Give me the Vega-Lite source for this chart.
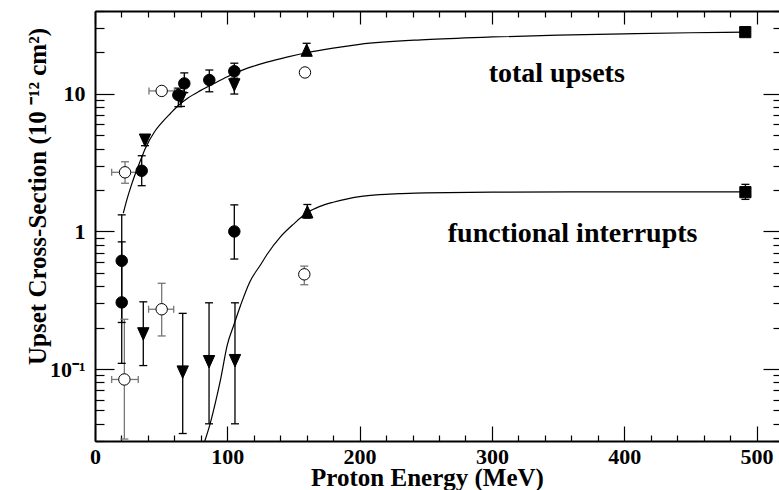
{
  "$schema": "https://vega.github.io/schema/vega-lite/v6.json",
  "width": 684,
  "height": 430,
  "autosize": {"type": "none"},
  "padding": {"left": 95, "top": 11, "right": 0, "bottom": 49},
  "background": "white",
  "config": {"view": {"stroke": null}, "font": "Liberation Serif"},
  "datasets": {
    "curves": [
      {"series": "total", "E": 21.4, "s": 1.36}, {"series": "total", "E": 24, "s": 1.69}, {"series": "total", "E": 27, "s": 2.1},
      {"series": "total", "E": 30, "s": 2.55}, {"series": "total", "E": 35, "s": 3.4}, {"series": "total", "E": 38, "s": 4.0},
      {"series": "total", "E": 45, "s": 5.3}, {"series": "total", "E": 50, "s": 6.1}, {"series": "total", "E": 57, "s": 7.2},
      {"series": "total", "E": 64, "s": 8.4}, {"series": "total", "E": 70, "s": 9.3}, {"series": "total", "E": 80, "s": 10.6},
      {"series": "total", "E": 90, "s": 11.9}, {"series": "total", "E": 100, "s": 13.3}, {"series": "total", "E": 110, "s": 14.7},
      {"series": "total", "E": 120, "s": 15.9}, {"series": "total", "E": 130, "s": 17.0}, {"series": "total", "E": 145, "s": 18.5},
      {"series": "total", "E": 160, "s": 19.9}, {"series": "total", "E": 180, "s": 21.5}, {"series": "total", "E": 200, "s": 22.9},
      {"series": "total", "E": 250, "s": 24.8}, {"series": "total", "E": 300, "s": 25.9}, {"series": "total", "E": 350, "s": 26.7},
      {"series": "total", "E": 400, "s": 27.3}, {"series": "total", "E": 450, "s": 27.8}, {"series": "total", "E": 491.5, "s": 28.1},
      {"series": "func", "E": 83, "s": 0.03}, {"series": "func", "E": 87, "s": 0.04}, {"series": "func", "E": 91, "s": 0.057},
      {"series": "func", "E": 95, "s": 0.085}, {"series": "func", "E": 100, "s": 0.15}, {"series": "func", "E": 105, "s": 0.21},
      {"series": "func", "E": 110, "s": 0.29}, {"series": "func", "E": 117, "s": 0.43}, {"series": "func", "E": 125, "s": 0.57},
      {"series": "func", "E": 130, "s": 0.68}, {"series": "func", "E": 140, "s": 0.91}, {"series": "func", "E": 150, "s": 1.13},
      {"series": "func", "E": 160, "s": 1.36}, {"series": "func", "E": 170, "s": 1.52}, {"series": "func", "E": 180, "s": 1.63},
      {"series": "func", "E": 190, "s": 1.72}, {"series": "func", "E": 200, "s": 1.79}, {"series": "func", "E": 215, "s": 1.85},
      {"series": "func", "E": 230, "s": 1.88}, {"series": "func", "E": 250, "s": 1.91}, {"series": "func", "E": 300, "s": 1.93},
      {"series": "func", "E": 400, "s": 1.94}, {"series": "func", "E": 491.5, "s": 1.94}
    ],
    "points": [
      {"group": "total", "type": "open circle", "E": 22.7, "s": 2.69, "lo": 2.24, "hi": 3.21, "Elo": 12.6, "Ehi": 32.7},
      {"group": "total", "type": "filled circle", "E": 35.3, "s": 2.76, "lo": 2.15, "hi": 3.55, "Elo": null, "Ehi": null},
      {"group": "total", "type": "down triangle", "E": 37.8, "s": 4.6, "lo": 4.2, "hi": 5.0, "Elo": null, "Ehi": null},
      {"group": "total", "type": "open circle", "E": 50.4, "s": 10.5, "lo": null, "hi": null, "Elo": 40.8, "Ehi": 60},
      {"group": "total", "type": "filled circle", "E": 63, "s": 9.8, "lo": 8.06, "hi": 11.0, "Elo": null, "Ehi": null},
      {"group": "total", "type": "down triangle", "E": 65, "s": 9.3, "lo": 8.1, "hi": 10.5, "Elo": null, "Ehi": null},
      {"group": "total", "type": "filled circle", "E": 67.5, "s": 11.9, "lo": 10.2, "hi": 14.2, "Elo": null, "Ehi": null},
      {"group": "total", "type": "filled circle", "E": 86.4, "s": 12.6, "lo": 10.35, "hi": 14.9, "Elo": null, "Ehi": null},
      {"group": "total", "type": "filled circle", "E": 105.3, "s": 14.6, "lo": 12.7, "hi": 16.7, "Elo": null, "Ehi": null},
      {"group": "total", "type": "down triangle", "E": 105.3, "s": 11.6, "lo": 9.97, "hi": 13.0, "Elo": null, "Ehi": null},
      {"group": "total", "type": "up triangle", "E": 160, "s": 20.8, "lo": 19.0, "hi": 23.3, "Elo": null, "Ehi": null},
      {"group": "total", "type": "open circle", "E": 158.7, "s": 14.3, "lo": null, "hi": null, "Elo": null, "Ehi": null},
      {"group": "total", "type": "square", "E": 491.5, "s": 28.1, "lo": null, "hi": null, "Elo": null, "Ehi": null},
      {"group": "func", "type": "filled circle", "E": 20.2, "s": 0.612, "lo": 0.218, "hi": 1.32, "Elo": null, "Ehi": null},
      {"group": "func", "type": "filled circle", "E": 20.2, "s": 0.305, "lo": 0.11, "hi": 0.84, "Elo": null, "Ehi": null},
      {"group": "func", "type": "open circle", "E": 22.2, "s": 0.084, "lo": 0.031, "hi": 0.23, "Elo": 12.6, "Ehi": 32.7},
      {"group": "func", "type": "down triangle", "E": 36.5, "s": 0.18, "lo": 0.106, "hi": 0.308, "Elo": null, "Ehi": null},
      {"group": "func", "type": "open circle", "E": 50.4, "s": 0.272, "lo": 0.174, "hi": 0.42, "Elo": 40.5, "Ehi": 59.5},
      {"group": "func", "type": "down triangle", "E": 66.3, "s": 0.095, "lo": 0.034, "hi": 0.254, "Elo": null, "Ehi": null},
      {"group": "func", "type": "down triangle", "E": 86.2, "s": 0.113, "lo": 0.04, "hi": 0.303, "Elo": null, "Ehi": null},
      {"group": "func", "type": "down triangle", "E": 105.8, "s": 0.115, "lo": 0.04, "hi": 0.303, "Elo": null, "Ehi": null},
      {"group": "func", "type": "filled circle", "E": 105.3, "s": 1.0, "lo": 0.63, "hi": 1.56, "Elo": null, "Ehi": null},
      {"group": "func", "type": "up triangle", "E": 160.5, "s": 1.39, "lo": 1.25, "hi": 1.57, "Elo": null, "Ehi": null},
      {"group": "func", "type": "open circle", "E": 158.2, "s": 0.488, "lo": 0.41, "hi": 0.56, "Elo": null, "Ehi": null},
      {"group": "func", "type": "square", "E": 491.6, "s": 1.93, "lo": 1.71, "hi": 2.2, "Elo": null, "Ehi": null}
    ],
    "labels": [
      {"E": 349, "s": 12.27, "text": "total upsets"},
      {"E": 361, "s": 0.835, "text": "functional interrupts"}
    ]
  },
  "resolve": {"axis": {"x": "independent", "y": "independent"}},
  "layer": [
    {
      "data": {"name": "points"},
      "transform": [{"filter": "isValid(datum.lo)"}],
      "mark": {"type": "rule", "strokeWidth": 1.3},
      "encoding": {
        "x": {"field": "E", "type": "quantitative", "scale": {"domain": [0, 517], "nice": false, "zero": false}, "axis": null},
        "y": {"field": "lo", "type": "quantitative", "scale": {"type": "log", "domain": [0.03, 40], "nice": false}, "axis": null},
        "y2": {"field": "hi"},
        "color": {"field": "type", "type": "nominal", "legend": null,
          "scale": {"domain": ["filled circle", "open circle", "down triangle", "up triangle", "square"], "range": ["black", "#777777", "black", "black", "black"]}}
      }
    },
    {
      "data": {"name": "points"},
      "transform": [{"filter": "isValid(datum.Elo)"}],
      "mark": {"type": "rule", "strokeWidth": 1.3},
      "encoding": {
        "x": {"field": "Elo", "type": "quantitative", "scale": {"domain": [0, 517], "nice": false, "zero": false}, "axis": null},
        "x2": {"field": "Ehi"},
        "y": {"field": "s", "type": "quantitative", "scale": {"type": "log", "domain": [0.03, 40], "nice": false}, "axis": null},
        "color": {"field": "type", "type": "nominal", "legend": null,
          "scale": {"domain": ["filled circle", "open circle", "down triangle", "up triangle", "square"], "range": ["black", "#777777", "black", "black", "black"]}}
      }
    },
    {
      "data": {"name": "points"},
      "transform": [{"filter": "isValid(datum.lo)"}, {"fold": ["lo", "hi"], "as": ["k", "v"]}],
      "mark": {"type": "point", "shape": "M-1,0L1,0", "size": 64, "filled": false, "strokeWidth": 1.3, "opacity": 1},
      "encoding": {
        "x": {"field": "E", "type": "quantitative", "scale": {"domain": [0, 517], "nice": false, "zero": false}, "axis": null},
        "y": {"field": "v", "type": "quantitative", "scale": {"type": "log", "domain": [0.03, 40], "nice": false},
          "axis": {"orient": "right", "values": [0.1, 1, 10], "offset": -16, "tickSize": 16,
            "labels": false, "domain": false, "grid": false, "title": null, "tickColor": "black", "tickWidth": 1.2}},
        "color": {"field": "type", "type": "nominal", "legend": null,
          "scale": {"domain": ["filled circle", "open circle", "down triangle", "up triangle", "square"], "range": ["black", "#777777", "black", "black", "black"]}}
      }
    },
    {
      "data": {"name": "points"},
      "transform": [{"filter": "isValid(datum.Elo)"}, {"fold": ["Elo", "Ehi"], "as": ["k", "v"]}],
      "mark": {"type": "point", "shape": "M0,-1L0,1", "size": 49, "filled": false, "strokeWidth": 1.3, "opacity": 1},
      "encoding": {
        "x": {"field": "v", "type": "quantitative", "scale": {"domain": [0, 517], "nice": false, "zero": false}, "axis": null},
        "y": {"field": "s", "type": "quantitative", "scale": {"type": "log", "domain": [0.03, 40], "nice": false},
          "axis": {"orient": "right", "values": [0.03, 0.04, 0.05, 0.06, 0.07, 0.08, 0.09, 0.2, 0.3, 0.4, 0.5, 0.6, 0.7, 0.8, 0.9, 2, 3, 4, 5, 6, 7, 8, 9, 20, 30, 40], "offset": -6, "tickSize": 6,
            "labels": false, "domain": false, "grid": false, "title": null, "tickColor": "black", "tickWidth": 1.2}},
        "color": {"field": "type", "type": "nominal", "legend": null,
          "scale": {"domain": ["filled circle", "open circle", "down triangle", "up triangle", "square"], "range": ["black", "#777777", "black", "black", "black"]}}
      }
    },
    {
      "data": {"name": "curves"},
      "mark": {"type": "line", "color": "black", "strokeWidth": 1.2, "interpolate": "monotone", "clip": true},
      "encoding": {
        "detail": {"field": "series"},
        "x": {"field": "E", "type": "quantitative", "scale": {"domain": [0, 517], "nice": false, "zero": false},
          "axis": {"orient": "bottom", "values": [0, 20, 40, 60, 80, 100, 120, 140, 160, 180, 200, 220, 240, 260, 280, 300, 320, 340, 360, 380, 400, 420, 440, 460, 480, 500],
            "ticks": false, "domain": true, "domainColor": "black", "domainWidth": 2,
            "grid": true, "gridColor": "black", "gridWidth": 1.2, "gridOpacity": 1,
            "gridDash": {"condition": {"test": "datum.value % 100 == 0", "value": [13, 2000]}, "value": [6, 2000]},
            "labelExpr": "datum.value % 100 == 0 ? datum.label : ''",
            "labelFont": "Liberation Serif", "labelFontWeight": "bold", "labelFontSize": 22, "labelColor": "black",
            "labelPadding": 5, "labelBaseline": "top", "labelFlush": false, "labelOverlap": false,
            "title": "Proton Energy (MeV)", "titleFont": "Liberation Serif", "titleFontWeight": "bold", "titleFontSize": 25,
            "titleColor": "black", "titleX": 332, "titleY": 44, "titleBaseline": "alphabetic", "titleAlign": "center"}},
        "y": {"field": "s", "type": "quantitative", "scale": {"type": "log", "domain": [0.03, 40], "nice": false},
          "axis": {"orient": "left", "values": [0.03, 0.04, 0.05, 0.06, 0.07, 0.08, 0.09, 0.1, 0.2, 0.3, 0.4, 0.5, 0.6, 0.7, 0.8, 0.9, 1, 2, 3, 4, 5, 6, 7, 8, 9, 10, 20, 30, 40],
            "ticks": false, "domain": true, "domainColor": "black", "domainWidth": 2,
            "grid": true, "gridColor": "black", "gridWidth": 1.2, "gridOpacity": 1,
            "gridDash": {"condition": {"test": "datum.value == 0.1 || datum.value == 1 || datum.value == 10", "value": [19, 2000]}, "value": [9, 2000]},
            "labelExpr": "datum.value == 0.1 ? '10⁻¹' : (datum.value == 1 ? '1' : (datum.value == 10 ? '10' : ''))",
            "labelFont": "Liberation Serif", "labelFontWeight": "bold", "labelFontSize": 22, "labelColor": "black",
            "labelPadding": 10, "labelFlush": false, "labelOverlap": false,
            "title": "Upset Cross-Section (10 ⁻¹² cm²)", "titleFont": "Liberation Serif", "titleFontWeight": "bold",
            "titleFontSize": 25, "titleColor": "black", "titleAngle": 270, "titleX": -50, "titleY": 185,
            "titleBaseline": "alphabetic", "titleAlign": "center"}}
      }
    },
    {
      "data": {"name": "points"},
      "mark": {"type": "point", "filled": true, "stroke": "black", "strokeWidth": 1, "opacity": 1},
      "encoding": {
        "x": {"field": "E", "type": "quantitative", "scale": {"domain": [0, 517], "nice": false, "zero": false},
          "axis": {"orient": "top", "values": [0, 20, 40, 60, 80, 100, 120, 140, 160, 180, 200, 220, 240, 260, 280, 300, 320, 340, 360, 380, 400, 420, 440, 460, 480, 500],
            "domain": true, "domainColor": "black", "domainWidth": 2, "ticks": false, "labels": false, "title": null,
            "grid": true, "gridColor": "black", "gridWidth": 1.2, "gridOpacity": 1,
            "gridDash": {"condition": {"test": "datum.value % 100 == 0", "value": [15, 2000]}, "value": [6, 2000]}}},
        "y": {"field": "s", "type": "quantitative", "scale": {"type": "log", "domain": [0.03, 40], "nice": false}, "axis": null},
        "shape": {"field": "type", "type": "nominal", "legend": null,
          "scale": {"domain": ["filled circle", "open circle", "down triangle", "up triangle", "square"], "range": ["circle", "circle", "M-1,-1.1L1,-1.1L0,1.1Z", "M0,-1.1L1,1.1L-1,1.1Z", "square"]}},
        "fill": {"field": "type", "type": "nominal", "legend": null,
          "scale": {"domain": ["filled circle", "open circle", "down triangle", "up triangle", "square"], "range": ["black", "white", "black", "black", "black"]}},
        "size": {"field": "type", "type": "nominal", "legend": null,
          "scale": {"domain": ["filled circle", "open circle", "down triangle", "up triangle", "square"], "range": [132, 125, 100, 100, 150]}}
      }
    },
    {
      "data": {"name": "labels"},
      "mark": {"type": "text", "font": "Liberation Serif", "fontWeight": "bold", "fontSize": 28, "align": "center", "baseline": "alphabetic", "color": "black"},
      "encoding": {
        "x": {"field": "E", "type": "quantitative", "scale": {"domain": [0, 517], "nice": false, "zero": false}, "axis": null},
        "y": {"field": "s", "type": "quantitative", "scale": {"type": "log", "domain": [0.03, 40], "nice": false}, "axis": null},
        "text": {"field": "text"}
      }
    }
  ]
}
